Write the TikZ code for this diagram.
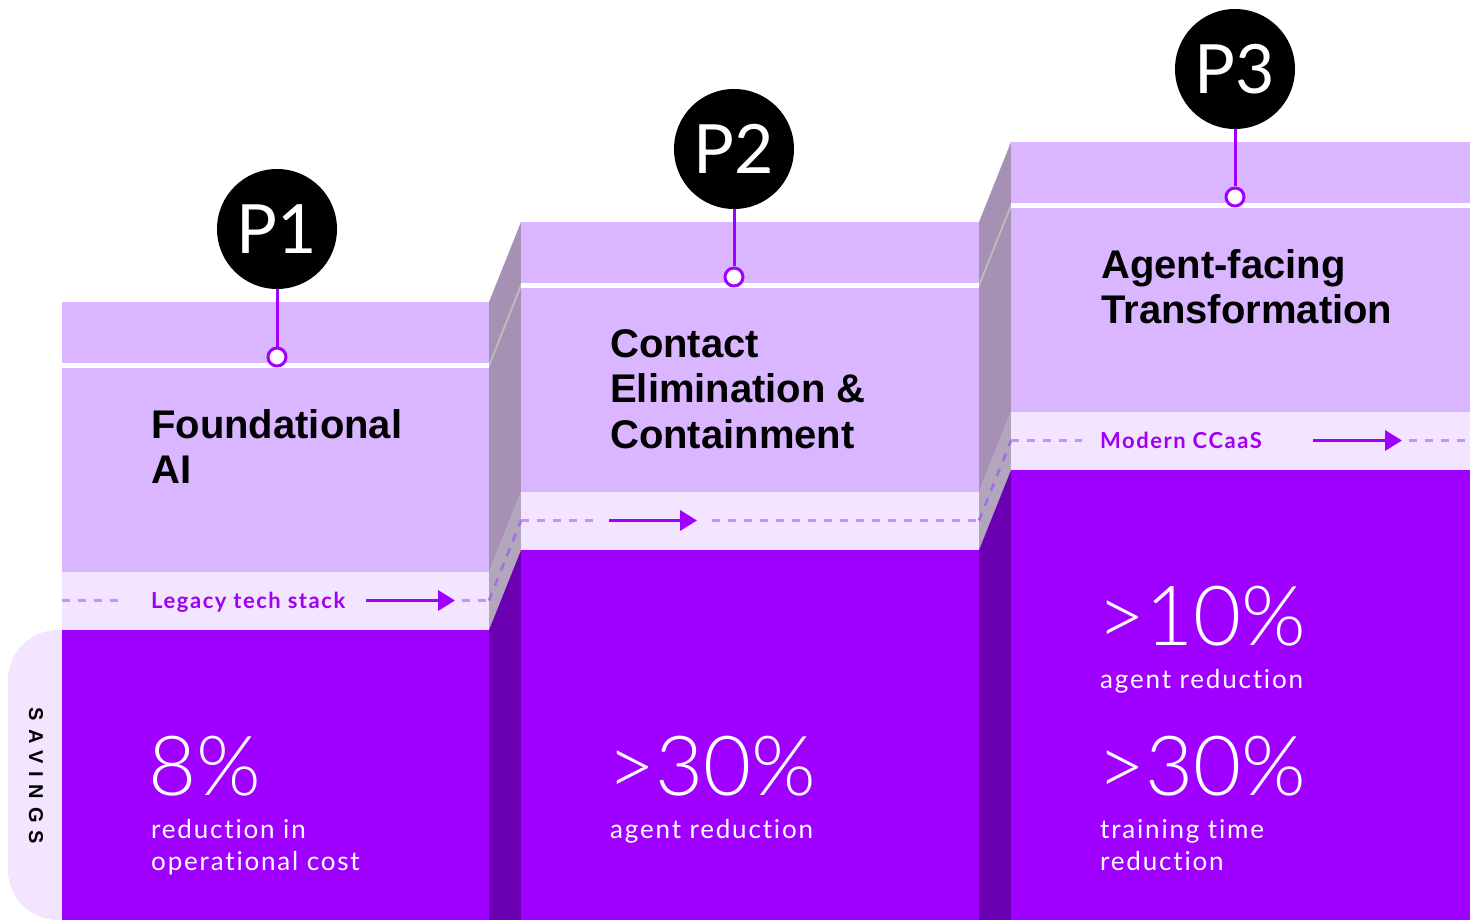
\documentclass[tikz,border=0pt]{standalone}
\usepackage{fontspec}
\setmainfont{Liberation Sans}
\newfontfamily\numfont{Lato Light}
\newfontfamily\bodyfont{Lato}[LetterSpace=7, Ligatures=NoCommon]
\newfontfamily\labfont{Lato}[LetterSpace=7, Ligatures=NoCommon]
\newfontfamily\pfont{Lato}
\newfontfamily\savfont{Liberation Sans}[UprightFont={* Bold}, BoldFont={* Bold}, LetterSpace=40]
\usetikzlibrary{arrows.meta}
\definecolor{lav}{HTML}{D9B6FF}
\definecolor{pale}{HTML}{F3E5FF}
\definecolor{vio}{HTML}{A000FF}
\definecolor{sideup}{HTML}{A690B4}
\definecolor{sidemid}{HTML}{B2A6BC}
\definecolor{sidedark}{HTML}{6B00B3}
\definecolor{strip}{HTML}{BCBCBC}
\definecolor{dashc}{HTML}{CB8EFF}
\definecolor{sidedash}{HTML}{A66CE0}
\definecolor{labtxt}{HTML}{A000F0}
\tikzset{
  dashline/.style={draw=dashc, line width=2.6pt, dash pattern=on 8pt off 8pt},
  sidedashline/.style={draw=sidedash, line width=2.6pt, dash pattern=on 8pt off 8pt},
  flowarrow/.style={draw=vio, line width=3.5pt, -{Triangle[length=17pt,width=20pt]}},
  pcirc/.style={circle, fill=black, minimum size=120pt, inner sep=0pt, text=white, font=\pfont\fontsize{68}{68}\selectfont},
  marker/.style={circle, fill=white, draw=vio, line width=3pt, minimum size=18pt, inner sep=0pt},
  stem/.style={draw=vio, line width=3pt},
  head/.style={font=\bfseries\fontsize{40}{45.5}\selectfont, align=left, inner sep=0pt, text=black, anchor=north west},
  bignum/.style={font=\numfont\fontsize{83}{83}\selectfont, text=white, inner sep=0pt, anchor=base west},
  body/.style={font=\bodyfont\fontsize{26}{32}\selectfont, text=white, align=left, inner sep=0pt, anchor=north west},
  lab/.style={font=\labfont\bfseries\fontsize{22}{22}\selectfont, text=labtxt, inner sep=0pt, anchor=base west},
}
\begin{document}
\begin{tikzpicture}[x=1pt,y=-1pt]
\useasboundingbox (0,0) rectangle (1476,920);
% savings tab
\fill[pale] (62,630) [rounded corners=50pt] -- (8,630) -- (8,920) [sharp corners] -- (62,920) -- cycle;
% column 1
\fill[lav] (62,302) rectangle (489,572);
\fill[white] (62,363) rectangle (489,368);
\fill[pale] (62,572) rectangle (489,630);
\fill[vio] (62,630) rectangle (489,920);
% side 1
\fill[sideup] (489,302) -- (521,222) -- (521,492) -- (489,572) -- cycle;
\fill[strip] (489,363) -- (521,283) -- (521,288) -- (489,368) -- cycle;
\fill[sidemid] (489,572) -- (521,492) -- (521,550) -- (489,630) -- cycle;
\fill[sidedark] (489,630) -- (521,550) -- (521,920) -- (489,920) -- cycle;
% column 2
\fill[lav] (521,222) rectangle (979,492);
\fill[white] (521,283) rectangle (979,288);
\fill[pale] (521,492) rectangle (979,550);
\fill[vio] (521,550) rectangle (979,920);
% side 2
\fill[sideup] (979,222) -- (1011,142) -- (1011,412) -- (979,492) -- cycle;
\fill[strip] (979,283) -- (1011,203) -- (1011,208) -- (979,288) -- cycle;
\fill[sidemid] (979,492) -- (1011,412) -- (1011,470) -- (979,550) -- cycle;
\fill[sidedark] (979,550) -- (1011,470) -- (1011,920) -- (979,920) -- cycle;
% column 3
\fill[lav] (1011,142) rectangle (1470,412);
\fill[white] (1011,203) rectangle (1470,208);
\fill[pale] (1011,412) rectangle (1470,470);
\fill[vio] (1011,470) rectangle (1470,920);

% dashed line coordinates
\coordinate (a0) at (62,600.5);
\coordinate (a1) at (120,600.5);
\coordinate (a2) at (462,600.5);
\coordinate (a3) at (489,600.5);
\coordinate (b0) at (521,520.5);
\coordinate (b1) at (593,520.5);
\coordinate (b2) at (712,520.5);
\coordinate (b3) at (979,520.5);
\coordinate (c0) at (1011,440.5);
\coordinate (c1) at (1082,440.5);
\coordinate (c2) at (1409,440.5);
\coordinate (c3) at (1470,440.5);
\draw[dashline] (a0) -- (a1);
\draw[dashline] (a2) -- (a3);
\draw[sidedashline] (a3) -- (b0);
\draw[dashline] (b0) -- (b1);
\draw[dashline] (b2) -- (b3);
\draw[sidedashline] (b3) -- (c0);
\draw[dashline] (c0) -- (c1);
\draw[dashline] (c2) -- (c3);

% arrows
\coordinate (ar1s) at (366,600.5);
\coordinate (ar1e) at (455,600.5);
\coordinate (ar2s) at (609,520.5);
\coordinate (ar2e) at (697,520.5);
\coordinate (ar3s) at (1313,440.5);
\coordinate (ar3e) at (1402,440.5);
\draw[flowarrow] (ar1s) -- (ar1e);
\draw[flowarrow] (ar2s) -- (ar2e);
\draw[flowarrow] (ar3s) -- (ar3e);

% labels
\node[lab] (l1) at (151,608) {Legacy tech stack};
\node[lab] (l3) at (1100,448) {Modern CCaaS};

% headings
\node[head] (h1) at (151,409) {Foundational\\AI};
\node[head] (h2) at (610,329) {Contact\\Elimination \&\\Containment};
\node[head] (h3) at (1101,249) {Agent-facing\\Transformation};

% savings figures
\node[bignum] (n1) at (148,795) {8\%};
\node[body] (d1) at (151,819) {reduction in\\operational cost};
\node[bignum] (n2) at (607,795) {>30\%};
\node[body] (d2) at (610,819) {agent reduction};
\node[bignum] (n3) at (1097,645) {>10\%};
\node[body] (d3) at (1100,669) {agent reduction};
\node[bignum] (n4) at (1097,795) {>30\%};
\node[body] (d4) at (1100,819) {training time\\reduction};

% savings tab label
\node[rotate=-90, font=\savfont\fontsize{20}{20}\selectfont, text=black, inner sep=0pt] (sav) at (36,776) {SAVINGS};

% phase circles
\node[pcirc] (p1) at (277,229) {P1};
\node[pcirc] (p2) at (734,149) {P2};
\node[pcirc] (p3) at (1235,69) {P3};
\node[marker] (m1) at (277,357) {};
\node[marker] (m2) at (734,277) {};
\node[marker] (m3) at (1235,197) {};
\draw[stem] (p1) -- (m1);
\draw[stem] (p2) -- (m2);
\draw[stem] (p3) -- (m3);
\end{tikzpicture}
\end{document}
